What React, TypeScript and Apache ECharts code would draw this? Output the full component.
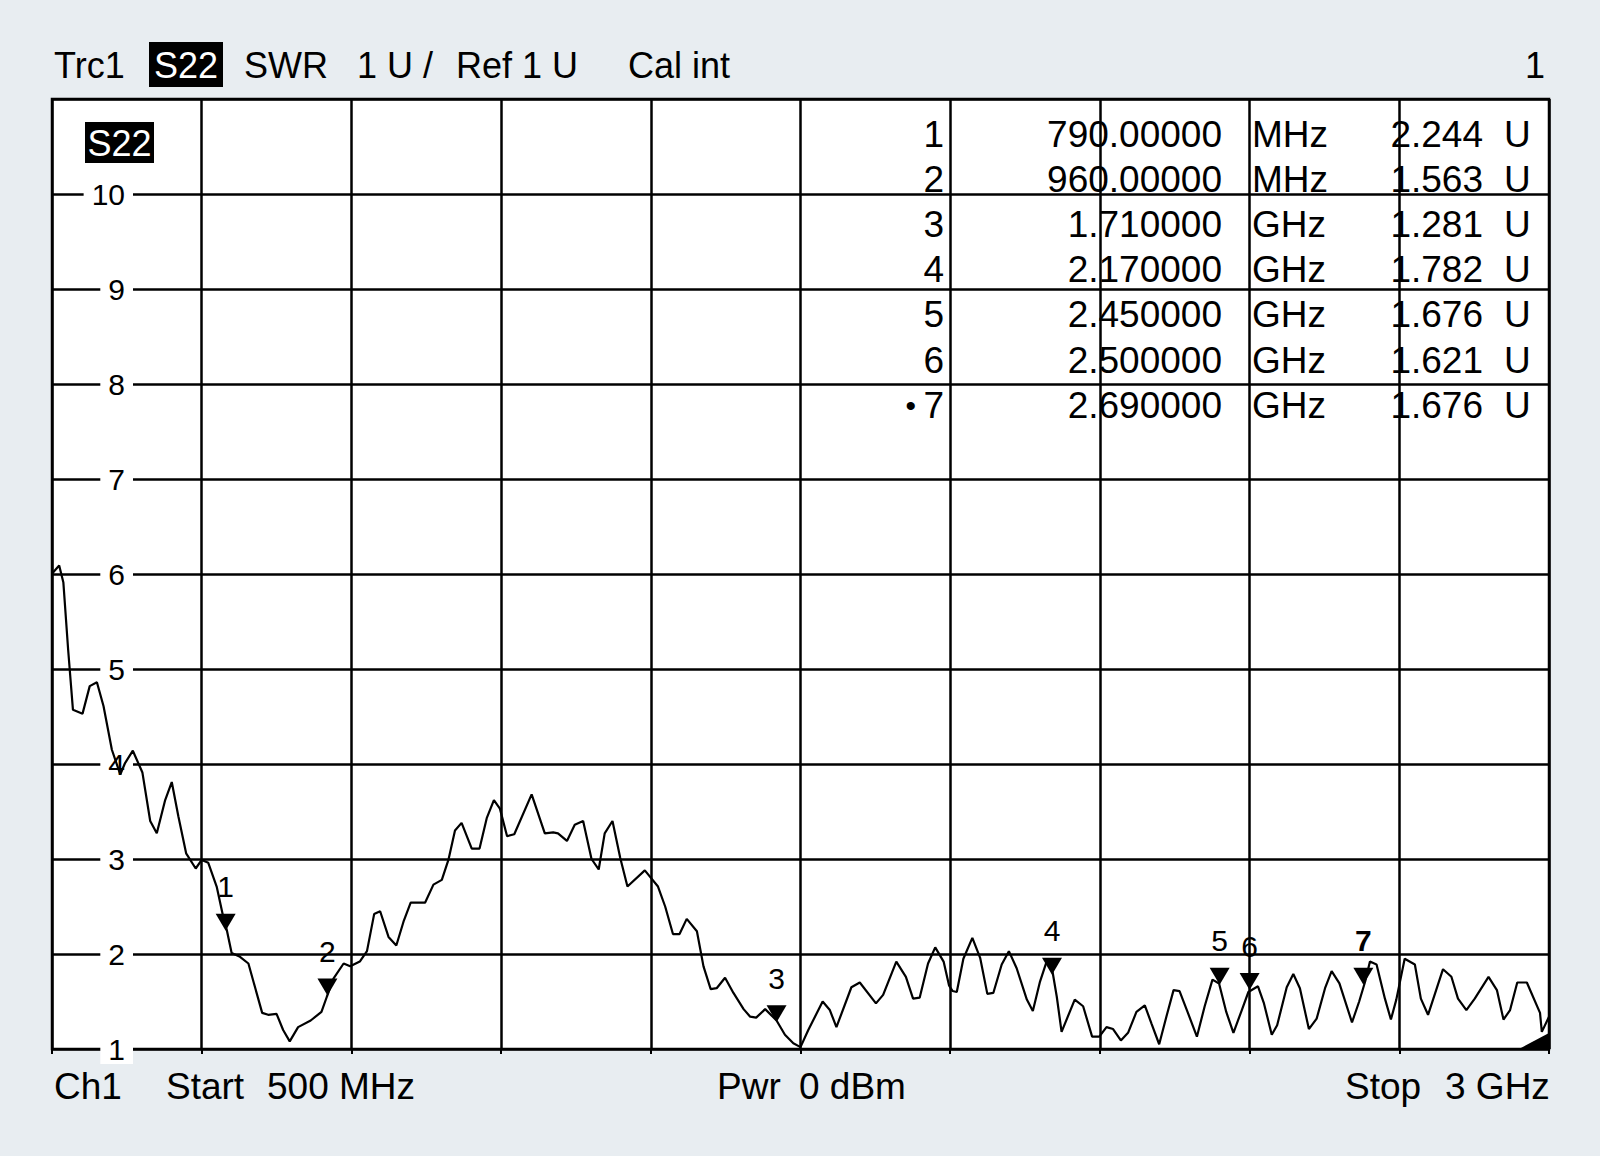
import React, { useEffect, useRef } from "react";
import * as echarts from "echarts";

// ---- data ----
const freqMHz = [
  501, 512, 519, 527, 535, 551, 563, 575, 586, 600, 614, 622, 635, 651, 664, 675, 689, 700, 711, 724,
  740, 750, 761, 775, 786, 792, 800, 814, 828, 851, 861, 875, 886, 897, 911, 932, 950, 959, 970, 987,
  998, 1014, 1026, 1038, 1048, 1062, 1075, 1087, 1099, 1123, 1137, 1151, 1162, 1173, 1184, 1201, 1214,
  1226, 1238, 1248, 1260, 1272, 1301, 1323, 1337, 1345, 1360, 1373, 1387, 1401, 1413, 1423, 1436, 1449,
  1461, 1490, 1512, 1524, 1537, 1548, 1560, 1577, 1588, 1600, 1610, 1624, 1638, 1655, 1666, 1676, 1691,
  1710, 1724, 1738, 1750, 1763, 1787, 1799, 1810, 1835, 1849, 1876, 1888, 1910, 1926, 1938, 1949, 1963,
  1975, 1989, 1998, 2004, 2011, 2022, 2037, 2050, 2062, 2072, 2086, 2098, 2111, 2128, 2138, 2150, 2161,
  2171, 2178, 2186, 2208, 2222, 2237, 2249, 2261, 2272, 2285, 2297, 2311, 2325, 2336, 2349, 2361, 2373,
  2383, 2397, 2412, 2425, 2438, 2449, 2461, 2473, 2487, 2498, 2514, 2524, 2537, 2546, 2562, 2573, 2584,
  2599, 2612, 2626, 2637, 2650, 2671, 2683, 2693, 2701, 2712, 2726, 2736, 2745, 2759, 2776, 2786, 2798,
  2823, 2837, 2848, 2862, 2876, 2899, 2913, 2924, 2935, 2947, 2963, 2985, 2988, 3000,
];
const swr = [
  6.01, 6.09, 5.91, 5.2, 4.57, 4.53, 4.82, 4.86, 4.61, 4.15, 3.89, 4.01, 4.14, 3.91, 3.4, 3.27, 3.62, 3.81, 3.45, 3.06,
  2.9, 2.99, 2.96, 2.71, 2.39, 2.25, 2.01, 1.97, 1.9, 1.38, 1.36, 1.37, 1.2, 1.08, 1.23, 1.3, 1.39, 1.55, 1.74, 1.9,
  1.87, 1.92, 2.03, 2.42, 2.45, 2.18, 2.09, 2.34, 2.54, 2.54, 2.73, 2.78, 2.99, 3.3, 3.38, 3.11, 3.11,
  3.43, 3.62, 3.53, 3.24, 3.26, 3.68, 3.27, 3.28, 3.27, 3.19, 3.36, 3.4, 3.0, 2.89, 3.27, 3.4, 3.01,
  2.71, 2.88, 2.71, 2.5, 2.21, 2.21, 2.37, 2.24, 1.87, 1.63, 1.64, 1.75, 1.59, 1.42, 1.34, 1.33, 1.42,
  1.3, 1.15, 1.06, 1.02, 1.2, 1.5, 1.41, 1.23, 1.65, 1.7, 1.48, 1.57, 1.92, 1.76, 1.53, 1.54, 1.9,
  2.07, 1.92, 1.67, 1.61, 1.6, 1.95, 2.17, 1.96, 1.58, 1.59, 1.89, 2.03, 1.85, 1.52, 1.4, 1.71, 1.92,
  1.81, 1.55, 1.18, 1.52, 1.45, 1.13, 1.13, 1.23, 1.21, 1.09, 1.17, 1.39, 1.46, 1.27, 1.05, 1.34, 1.62,
  1.61, 1.38, 1.13, 1.45, 1.73, 1.69, 1.39, 1.17, 1.41, 1.6, 1.66, 1.48, 1.15, 1.25, 1.65, 1.79, 1.64,
  1.21, 1.32, 1.64, 1.82, 1.69, 1.28, 1.5, 1.71, 1.92, 1.89, 1.53, 1.31, 1.52, 1.95, 1.89, 1.53, 1.36,
  1.84, 1.76, 1.53, 1.41, 1.53, 1.76, 1.62, 1.31, 1.41, 1.7, 1.7, 1.38, 1.18, 1.34,
];

const markerIds = ["1", "2", "3", "4", "5", "6", "7"];
const markerFreqMHz = [790, 960, 1710, 2170, 2450, 2500, 2690];
const markerSWR = [2.244, 1.563, 1.281, 1.782, 1.676, 1.621, 1.676];
const markerStimulus = ["790.00000", "960.00000", "1.710000", "2.170000", "2.450000", "2.500000", "2.690000"];
const markerUnits = ["MHz", "MHz", "GHz", "GHz", "GHz", "GHz", "GHz"];
const markerResponse = ["2.244", "1.563", "1.281", "1.782", "1.676", "1.621", "1.676"];
const activeMarker = "7";

const startMHz = 500;
const stopMHz = 3000;
const stepMHz = 250;
const yMin = 1;
const yMax = 11;

const headerLeft = ["Trc1", "SWR", "1 U /", "Ref 1 U", "Cal int"];
const headerBadge = "S22";
const headerRight = "1";
const footerTexts = ["Ch1", "Start", "500 MHz", "Pwr", "0 dBm", "Stop", "3 GHz"];

const FONT = "'Liberation Sans', Arial, Helvetica, sans-serif";

export default function App() {
  const ref = useRef<HTMLDivElement>(null);

  useEffect(() => {
    if (!ref.current) return;
    const chart = echarts.init(ref.current, null, { renderer: "svg" });

    const gLeft = 52, gTop = 99, gW = 1497, gH = 950;

    const txt = (text: string, x: number, y: number, size: number, align = "left", extra: any = {}) => ({
      type: "text",
      x,
      y,
      z: 10,
      style: {
        text,
        fontSize: size,
        fontFamily: FONT,
        fill: "#000",
        align,
        verticalAlign: "middle",
        ...extra,
      },
    });

    const headerX = [54, 244, 357, 456, 628];
    const footerX = [54, 166, 267, 717, 799, 1345, 1445];

    const graphic: any[] = [];
    headerLeft.forEach((t, i) => graphic.push(txt(t, headerX[i], 65, 36)));
    graphic.push({ type: "rect", z: 10, shape: { x: 149, y: 42, width: 74, height: 45 }, style: { fill: "#000" } });
    graphic.push(txt(headerBadge, 186, 65, 36, "center", { fill: "#fff" }));
    graphic.push(txt(headerRight, 1545, 65, 36, "right"));

    footerTexts.forEach((t, i) => graphic.push(txt(t, footerX[i], 1086, 37)));

    // trace badge inside plot
    graphic.push({ type: "rect", z: 10, shape: { x: 85, y: 122, width: 69, height: 41 }, style: { fill: "#000" } });
    graphic.push(txt(headerBadge, 119.5, 143, 36, "center", { fill: "#fff" }));

    // marker table
    markerIds.forEach((id, i) => {
      const y = 134 + i * 45.2;
      graphic.push(txt(id, 944, y, 37, "right"));
      if (id === activeMarker) graphic.push(txt("•", 916, y, 30, "right"));
      graphic.push(txt(markerStimulus[i], 1222, y, 37, "right"));
      graphic.push(txt(markerUnits[i], 1252, y, 37, "left"));
      graphic.push(txt(markerResponse[i], 1483, y, 37, "right"));
      graphic.push(txt("U", 1504, y, 37, "left"));
    });

    const option: any = {
      animation: false,
      backgroundColor: "#e8edf1",
      grid: {
        left: gLeft,
        top: gTop,
        width: gW,
        height: gH,
        show: true,
        backgroundColor: "#ffffff",
        borderColor: "#000",
        borderWidth: 2.5,
      },
      xAxis: {
        type: "value",
        min: startMHz,
        max: stopMHz,
        interval: stepMHz,
        axisLine: { show: false },
        axisTick: { show: true, length: 5, lineStyle: { color: "#000", width: 2 } },
        axisLabel: { show: false },
        splitLine: { show: true, lineStyle: { color: "#000", width: 2.5 } },
      },
      yAxis: [
        {
          type: "value",
          position: "left",
          min: yMin,
          max: yMax,
          interval: 1,
          z: 0,
          axisLine: { show: false },
          axisTick: { show: false },
          axisLabel: { show: false },
          splitLine: { show: true, lineStyle: { color: "#000", width: 2.5 } },
        },
        {
          type: "value",
          position: "left",
          min: yMin,
          max: yMax,
          interval: 1,
          z: 1,
          axisLine: { show: false },
          axisTick: { show: false },
          splitLine: { show: false },
          axisLabel: {
            show: true,
            inside: true,
            margin: 81,
            align: "right",
            showMaxLabel: false,
            showMinLabel: true,
            fontSize: 30,
            fontFamily: FONT,
            color: "#000",
            backgroundColor: "#ffffff",
            padding: [0, 8, 0, 8],
          },
        },
      ],
      graphic,
      series: [
        {
          type: "line",
          name: "S22",
          yAxisIndex: 0,
          data: freqMHz.map((f, i) => [f, swr[i]]),
          showSymbol: false,
          symbol: "none",
          lineStyle: { color: "#000", width: 2.2 },
          z: 3,
        },
        {
          type: "scatter",
          name: "markers",
          yAxisIndex: 0,
          clip: false,
          z: 4,
          symbol: "path://M0,0 L20,0 L10,17 Z",
          symbolSize: [20, 17],
          symbolOffset: [0, -8.5],
          itemStyle: { color: "#000", opacity: 1 },
          label: {
            show: true,
            position: "top",
            distance: 12,
            formatter: "{b}",
            fontSize: 30,
            fontFamily: FONT,
            color: "#000",
            opacity: 1,
          },
          data: markerIds.map((id, i) => ({
            name: id,
            value: [markerFreqMHz[i], markerSWR[i]],
            label: id === activeMarker ? { fontWeight: "bold" } : undefined,
          })),
        },
        {
          type: "scatter",
          name: "stop",
          yAxisIndex: 0,
          clip: false,
          z: 4,
          symbol: "path://M0,16 L30,0 L30,16 Z",
          symbolSize: [30, 16],
          symbolOffset: [-15, -8],
          itemStyle: { color: "#000", opacity: 1 },
          data: [[stopMHz, yMin]],
        },
      ],
    };

    chart.setOption(option);
    return () => chart.dispose();
  }, []);

  return (
    <div
      ref={ref}
      style={{ position: "absolute", left: 0, top: 0, width: 1600, height: 1156 }}
    />
  );
}
